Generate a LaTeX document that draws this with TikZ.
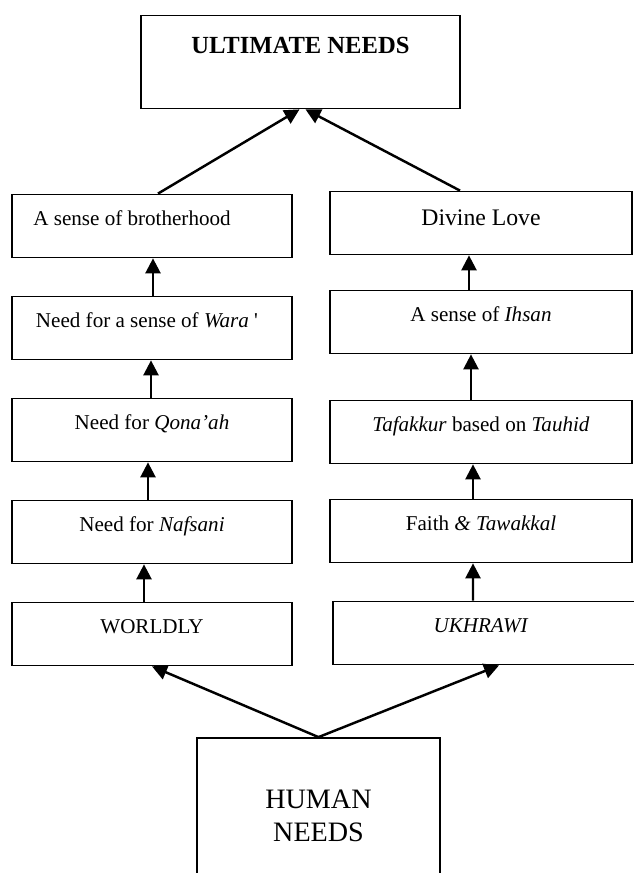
\documentclass[tikz,border=0pt]{standalone}
\usepackage{fontspec}
\setmainfont{Liberation Serif}[Ligatures=TeXOff]
\usepackage{tikz}
\usetikzlibrary{arrows.meta, positioning}
\tikzstyle{needbox} = [rectangle, minimum height=1.26cm, text centered, draw=black, line width=1pt, font=\fontsize{12pt}{14pt}\selectfont, text height=9pt, text depth=9pt]
\tikzstyle{worldbox} = [needbox, minimum width=5.6cm]
\tikzstyle{akhiratbox} = [needbox, minimum width=6.04cm]
\tikzstyle{arrow} = [line width=1.4pt, -{Triangle[length=0.3cm, width=0.3cm]}]

\begin{document}
\begin{tikzpicture}[node distance=2.04cm]
\useasboundingbox (0,0) rectangle (12.68,17.46);
\node (ultimate) [rectangle, draw=black, line width=1pt, minimum width=6.38cm, minimum height=1.86cm, font=\fontsize{14pt}{16pt}\selectfont\bfseries, text height=10pt, text depth=20pt] at (6.01,16.22) {ULTIMATE NEEDS};

\node (worldly) [worldbox] at (3.04,4.78) {WORLDLY};
\node (nafsani) [worldbox, above of=worldly] {Need for \textit{Nafsani}};
\node (qonaah) [worldbox, above of=nafsani] {Need for \textit{Qona’ah}};
\node (wara) [worldbox, above of=qonaah] {Need for a sense of \textit{Wara} '\hspace*{0.2cm}};
\node (brotherhood) [worldbox, above of=wara] {A sense of brotherhood\hspace*{0.8cm}};

\node (ukhrawi) [akhiratbox, minimum width=6.14cm] at (9.73,4.80) {\textit{UKHRAWI}\hspace*{0.22cm}};
\node (faith) [akhiratbox, above of=ukhrawi, xshift=-0.11cm] {Faith \textit{\& Tawakkal}};
\node (tafakkur) [akhiratbox, above of=faith, yshift=-0.06cm] {\textit{Tafakkur} based on \textit{Tauhid}};
\node (ihsan) [akhiratbox, above of=tafakkur, yshift=0.16cm] {A sense of \textit{Ihsan}};
\node (divine) [akhiratbox, above of=ihsan, yshift=-0.06cm, font=\fontsize{13.5pt}{16pt}\selectfont, text height=10pt, text depth=7pt] {Divine Love};

\node (human) [rectangle, draw=black, line width=1pt, minimum width=4.86cm, minimum height=3.12cm, align=center, font=\fontsize{16pt}{18.7pt}\selectfont] at (6.37,1.14) {HUMAN\\NEEDS};

\draw [arrow] ([xshift=-0.16cm]worldly.north) -- ([xshift=-0.16cm]nafsani.south);
\draw [arrow] ([xshift=-0.08cm]nafsani.north) -- ([xshift=-0.08cm]qonaah.south);
\draw [arrow] ([xshift=-0.02cm]qonaah.north) -- ([xshift=-0.02cm]wara.south);
\draw [arrow] ([xshift=0.02cm]wara.north) -- ([xshift=0.02cm]brotherhood.south);

\draw [arrow] ([xshift=-0.27cm]ukhrawi.north) -- ([xshift=-0.16cm]faith.south);
\draw [arrow] ([xshift=-0.16cm]faith.north) -- ([xshift=-0.16cm]tafakkur.south);
\draw [arrow] ([xshift=-0.2cm]tafakkur.north) -- ([xshift=-0.2cm]ihsan.south);
\draw [arrow] ([xshift=-0.24cm]ihsan.north) -- ([xshift=-0.24cm]divine.south);

\draw [arrow] ([xshift=0.12cm]brotherhood.north) -- ([xshift=-0.02cm]ultimate.south);
\draw [arrow] ([xshift=-0.42cm]divine.north) -- ([xshift=0.1cm]ultimate.south);
\draw [arrow] (human.north) -- (worldly.south);
\draw [arrow] (human.north) -- ([xshift=0.25cm]ukhrawi.south);
\end{tikzpicture}
\end{document}
